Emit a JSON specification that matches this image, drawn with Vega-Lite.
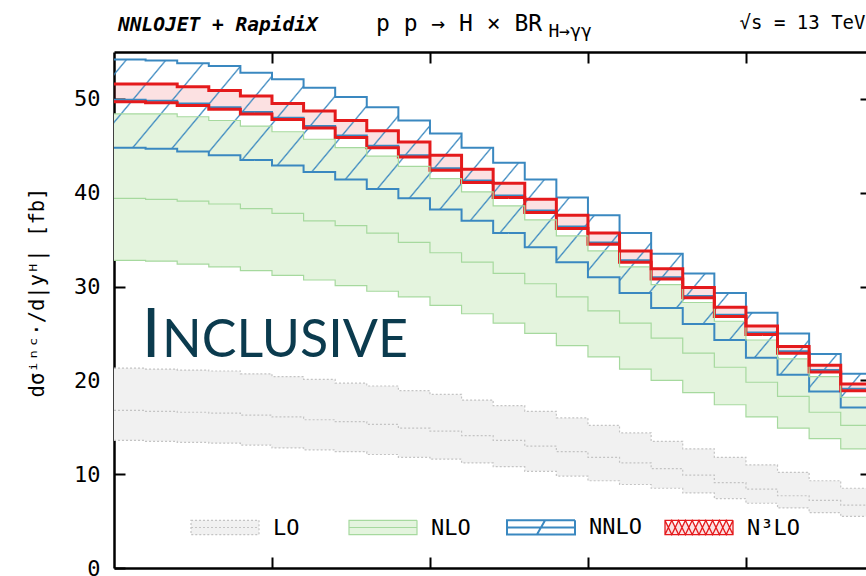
{
  "$schema": "https://vega.github.io/schema/vega-lite/v6.json",
  "width": 752,
  "height": 516,
  "autosize": "none",
  "padding": {"left": 114, "top": 52, "right": 0, "bottom": 8},
  "background": "white",
  "config": {
    "view": {"stroke": null},
    "axis": {
      "domainColor": "black", "domainWidth": 2.5, "tickColor": "black", "tickWidth": 2,
      "grid": false, "labelFont": "DejaVu Sans Mono", "labelFontSize": 22, "labelColor": "black",
      "titleFont": "DejaVu Sans Mono", "titleFontWeight": "normal", "titleFontSize": 20.5, "titleColor": "black"
    }
  },
  "data": {"values": [
    {"s": "LO", "x": [0,0.1,0.2,0.3,0.4,0.5,0.6,0.7,0.8,0.9,1.0,1.1,1.2,1.3,1.4,1.5,1.6,1.7,1.8,1.9,2.0,2.1,2.2,2.3,2.4],
     "lo": [13.6,13.5,13.4,13.3,13.1,12.8,12.6,12.4,12.1,11.8,11.6,11.2,10.8,10.3,9.8,9.3,8.9,8.5,8.0,7.4,6.9,6.4,5.9,5.5,5.5],
     "m": [16.8,16.7,16.6,16.5,16.3,16.1,15.8,15.6,15.3,14.9,14.6,14.1,13.6,13.0,12.4,11.8,11.2,10.6,9.9,9.1,8.4,7.7,7.2,6.7,6.7],
     "hi": [21.3,21.2,21.1,21.0,20.7,20.4,20.1,19.7,19.4,18.9,18.5,17.9,17.3,16.7,16.0,15.2,14.4,13.5,12.7,11.8,11.0,10.2,9.3,8.5,8.5]},
    {"s": "NLO", "x": [0,0.1,0.2,0.3,0.4,0.5,0.6,0.7,0.8,0.9,1.0,1.1,1.2,1.3,1.4,1.5,1.6,1.7,1.8,1.9,2.0,2.1,2.2,2.3,2.4],
     "lo": [32.8,32.7,32.4,32.1,31.7,31.2,30.7,30.1,29.5,28.9,28.0,27.1,26.1,25.0,23.7,22.5,21.2,20.0,18.7,17.4,16.1,14.9,13.8,12.7,12.7],
     "m": [39.4,39.3,39.1,38.8,38.3,37.8,37.0,36.5,35.7,34.7,33.6,32.6,31.4,30.3,28.9,27.4,26.1,24.5,22.9,21.4,19.8,18.3,16.6,15.2,15.2],
     "hi": [48.4,48.4,48.1,47.7,47.1,46.5,45.7,44.8,43.9,42.8,41.5,40.1,38.6,37.1,35.4,33.8,32.1,30.2,28.3,26.3,24.3,22.3,20.4,18.2,18.2]},
    {"s": "NNLO", "x": [0,0.1,0.2,0.3,0.4,0.5,0.6,0.7,0.8,0.9,1.0,1.1,1.2,1.3,1.4,1.5,1.6,1.7,1.8,1.9,2.0,2.1,2.2,2.3,2.4],
     "lo": [44.8,44.7,44.4,44.0,43.5,42.9,42.2,41.4,40.4,39.4,38.2,37.0,35.7,34.2,32.6,31.0,29.3,27.7,26.0,24.3,22.4,20.6,18.8,17.1,17.1],
     "m": [49.9,49.8,49.5,49.1,48.6,48.0,47.1,46.1,45.0,44.0,42.6,41.3,39.7,38.1,36.4,34.7,32.8,31.0,29.0,27.0,25.1,23.1,21.1,19.1,19.1],
     "hi": [54.2,54.1,53.8,53.5,52.8,52.1,51.2,50.2,49.1,47.7,46.3,44.8,43.2,41.4,39.5,37.6,35.7,33.5,31.4,29.3,27.2,25.0,22.8,20.7,20.7]},
    {"s": "N³LO", "x": [0,0.1,0.2,0.3,0.4,0.5,0.6,0.7,0.8,0.9,1.0,1.1,1.2,1.3,1.4,1.5,1.6,1.7,1.8,1.9,2.0,2.1,2.2,2.3,2.4],
     "lo": [49.7,49.6,49.3,48.9,48.4,47.8,46.9,45.9,44.8,43.8,42.4,41.1,39.5,37.9,36.2,34.5,32.6,30.8,28.8,26.8,24.9,22.9,20.9,18.9,18.9],
     "m": [],
     "hi": [51.6,51.6,51.3,50.9,50.3,49.5,48.7,47.7,46.6,45.4,44.0,42.5,41.0,39.3,37.6,35.7,33.8,31.9,29.9,27.8,25.8,23.6,21.6,19.6,19.6]}
  ]},
  "transform": [{"flatten": ["x", "lo", "m", "hi"]}],
  "layer": [
    {
      "mark": {"type": "area", "interpolate": "step-after", "clip": true},
      "encoding": {
        "x": {"field": "x", "type": "quantitative", "scale": {"domain": [0, 2.38], "nice": false, "zero": false},
              "axis": {"orient": "bottom", "values": [0.5, 1, 1.5, 2], "tickSize": -11, "labels": false, "title": null}},
        "y": {"field": "lo", "type": "quantitative", "scale": {"domain": [0, 55], "nice": false},
              "axis": {"orient": "left", "values": [0, 10, 20, 30, 40, 50], "tickSize": -11, "labelPadding": 25,
                       "title": "dσⁱⁿᶜ·/d|yᴴ| [fb]", "titlePadding": 26, "titleY": 240}},
        "y2": {"field": "hi"},
        "fill": {"field": "s", "type": "nominal",
                 "scale": {"domain": ["LO", "NLO", "NNLO", "N³LO"], "range": ["#f1f1f1", "#e4f4de", "rgba(58,136,192,0)", "rgba(228,26,28,0.13)"]},
                 "legend": {
                   "orient": "none", "legendX": 100, "legendY": 464, "direction": "horizontal", "title": null,
                   "symbolSize": 4624, "symbolType": "M-1,-0.21H1V0.21H-1Z",
                   "labelFont": "DejaVu Sans Mono", "labelFontSize": 22, "labelColor": "black", "labelOffset": 37,
                   "columnPadding": 19, "gridAlign": "all",
                   "encode": {"symbols": {"update": {
                     "shape": {"signal": "datum.value === 'N³LO' ? 'M-1,-0.21H1V0.21H-1Z M-1,-0.21L-0.8,0.21L-0.6,-0.21L-0.4,0.21L-0.2,-0.21L0,0.21L0.2,-0.21L0.4,0.21L0.6,-0.21L0.8,0.21L1,-0.21 M-1,0.21L-0.8,-0.21L-0.6,0.21L-0.4,-0.21L-0.2,0.21L0,-0.21L0.2,0.21L0.4,-0.21L0.6,0.21L0.8,-0.21L1,0.21' : datum.value === 'NNLO' ? 'M-1,-0.21H1V0.21H-1Z M-1,0H1 M-0.12,0.21L0.12,-0.21' : 'M-1,-0.21H1V0.21H-1Z M-1,0H1'"},
                     "fill": {"signal": "datum.value === 'LO' ? '#f1f1f1' : datum.value === 'NLO' ? '#e4f4de' : 'white'"},
                     "stroke": {"signal": "datum.value === 'LO' ? '#c4c4c4' : datum.value === 'NLO' ? '#a6d99e' : datum.value === 'NNLO' ? '#3a88c0' : '#e41a1c'"},
                     "strokeDash": {"signal": "datum.value === 'LO' ? [2,2] : [1,0]"},
                     "strokeWidth": {"signal": "datum.value === 'LO' || datum.value === 'NLO' ? 1.2 : datum.value === 'NNLO' ? 2 : 1.3"},
                     "opacity": {"value": 1}
                   }}}
                 }}
      }
    },
    {
      "transform": [{"filter": "datum.s === 'NNLO'"}],
      "mark": {"type": "area", "interpolate": "step-after", "clip": true,
               "fill": {"gradient": "linear", "x1": 0, "y1": 0, "x2": 1.206, "y2": 0.4613, "stops": [
                 {"offset": 0.0104, "color": "rgba(58,136,192,0)"}, {"offset": 0.012, "color": "#3a88c0"}, {"offset": 0.0136, "color": "rgba(58,136,192,0)"},
                 {"offset": 0.0484, "color": "rgba(58,136,192,0)"}, {"offset": 0.050, "color": "#3a88c0"}, {"offset": 0.0516, "color": "rgba(58,136,192,0)"},
                 {"offset": 0.0864, "color": "rgba(58,136,192,0)"}, {"offset": 0.088, "color": "#3a88c0"}, {"offset": 0.0896, "color": "rgba(58,136,192,0)"},
                 {"offset": 0.1244, "color": "rgba(58,136,192,0)"}, {"offset": 0.126, "color": "#3a88c0"}, {"offset": 0.1276, "color": "rgba(58,136,192,0)"},
                 {"offset": 0.1624, "color": "rgba(58,136,192,0)"}, {"offset": 0.164, "color": "#3a88c0"}, {"offset": 0.1656, "color": "rgba(58,136,192,0)"},
                 {"offset": 0.2004, "color": "rgba(58,136,192,0)"}, {"offset": 0.202, "color": "#3a88c0"}, {"offset": 0.2036, "color": "rgba(58,136,192,0)"},
                 {"offset": 0.2384, "color": "rgba(58,136,192,0)"}, {"offset": 0.240, "color": "#3a88c0"}, {"offset": 0.2416, "color": "rgba(58,136,192,0)"},
                 {"offset": 0.2764, "color": "rgba(58,136,192,0)"}, {"offset": 0.278, "color": "#3a88c0"}, {"offset": 0.2796, "color": "rgba(58,136,192,0)"},
                 {"offset": 0.3144, "color": "rgba(58,136,192,0)"}, {"offset": 0.316, "color": "#3a88c0"}, {"offset": 0.3176, "color": "rgba(58,136,192,0)"},
                 {"offset": 0.3524, "color": "rgba(58,136,192,0)"}, {"offset": 0.354, "color": "#3a88c0"}, {"offset": 0.3556, "color": "rgba(58,136,192,0)"},
                 {"offset": 0.3904, "color": "rgba(58,136,192,0)"}, {"offset": 0.392, "color": "#3a88c0"}, {"offset": 0.3936, "color": "rgba(58,136,192,0)"},
                 {"offset": 0.4284, "color": "rgba(58,136,192,0)"}, {"offset": 0.430, "color": "#3a88c0"}, {"offset": 0.4316, "color": "rgba(58,136,192,0)"},
                 {"offset": 0.4664, "color": "rgba(58,136,192,0)"}, {"offset": 0.468, "color": "#3a88c0"}, {"offset": 0.4696, "color": "rgba(58,136,192,0)"},
                 {"offset": 0.5044, "color": "rgba(58,136,192,0)"}, {"offset": 0.506, "color": "#3a88c0"}, {"offset": 0.5076, "color": "rgba(58,136,192,0)"},
                 {"offset": 0.5424, "color": "rgba(58,136,192,0)"}, {"offset": 0.544, "color": "#3a88c0"}, {"offset": 0.5456, "color": "rgba(58,136,192,0)"},
                 {"offset": 0.5804, "color": "rgba(58,136,192,0)"}, {"offset": 0.582, "color": "#3a88c0"}, {"offset": 0.5836, "color": "rgba(58,136,192,0)"},
                 {"offset": 0.6184, "color": "rgba(58,136,192,0)"}, {"offset": 0.620, "color": "#3a88c0"}, {"offset": 0.6216, "color": "rgba(58,136,192,0)"},
                 {"offset": 0.6564, "color": "rgba(58,136,192,0)"}, {"offset": 0.658, "color": "#3a88c0"}, {"offset": 0.6596, "color": "rgba(58,136,192,0)"},
                 {"offset": 0.6944, "color": "rgba(58,136,192,0)"}, {"offset": 0.696, "color": "#3a88c0"}, {"offset": 0.6976, "color": "rgba(58,136,192,0)"},
                 {"offset": 0.7324, "color": "rgba(58,136,192,0)"}, {"offset": 0.734, "color": "#3a88c0"}, {"offset": 0.7356, "color": "rgba(58,136,192,0)"},
                 {"offset": 0.7704, "color": "rgba(58,136,192,0)"}, {"offset": 0.772, "color": "#3a88c0"}, {"offset": 0.7736, "color": "rgba(58,136,192,0)"},
                 {"offset": 0.8084, "color": "rgba(58,136,192,0)"}, {"offset": 0.810, "color": "#3a88c0"}, {"offset": 0.8116, "color": "rgba(58,136,192,0)"},
                 {"offset": 0.8464, "color": "rgba(58,136,192,0)"}, {"offset": 0.848, "color": "#3a88c0"}, {"offset": 0.8496, "color": "rgba(58,136,192,0)"},
                 {"offset": 0.8844, "color": "rgba(58,136,192,0)"}, {"offset": 0.886, "color": "#3a88c0"}, {"offset": 0.8876, "color": "rgba(58,136,192,0)"},
                 {"offset": 0.9224, "color": "rgba(58,136,192,0)"}, {"offset": 0.924, "color": "#3a88c0"}, {"offset": 0.9256, "color": "rgba(58,136,192,0)"},
                 {"offset": 0.9604, "color": "rgba(58,136,192,0)"}, {"offset": 0.962, "color": "#3a88c0"}, {"offset": 0.9636, "color": "rgba(58,136,192,0)"},
                 {"offset": 0.9984, "color": "rgba(58,136,192,0)"}, {"offset": 1.0, "color": "#3a88c0"}
               ]}},
      "encoding": {
        "x": {"field": "x", "type": "quantitative", "axis": null},
        "y": {"field": "lo", "type": "quantitative", "axis": null},
        "y2": {"field": "hi"}
      }
    },
    {
      "transform": [{"filter": "datum.m != null"}],
      "mark": {"type": "line", "interpolate": "step-after", "clip": true},
      "encoding": {
        "x": {"field": "x", "type": "quantitative", "axis": null},
        "y": {"field": "m", "type": "quantitative", "axis": null},
        "stroke": {"field": "s", "type": "nominal", "legend": null,
                   "scale": {"domain": ["LO", "NLO", "NNLO", "N³LO"], "range": ["#c4c4c4", "#a6d99e", "#3a88c0", "#e41a1c"]}},
        "strokeDash": {"condition": {"test": "datum.s === 'LO'", "value": [2, 2]}, "value": [1, 0]},
        "strokeWidth": {"condition": [{"test": "datum.s === 'NNLO'", "value": 2}, {"test": "datum.s === 'N³LO'", "value": 3}], "value": 1.2}
      }
    },
    {
      "mark": {"type": "line", "interpolate": "step-after", "clip": true},
      "encoding": {
        "x": {"field": "x", "type": "quantitative", "axis": null},
        "y": {"field": "lo", "type": "quantitative", "axis": null},
        "stroke": {"field": "s", "type": "nominal", "legend": null,
                   "scale": {"domain": ["LO", "NLO", "NNLO", "N³LO"], "range": ["#c4c4c4", "#a6d99e", "#3a88c0", "#e41a1c"]}},
        "strokeDash": {"condition": {"test": "datum.s === 'LO'", "value": [2, 2]}, "value": [1, 0]},
        "strokeWidth": {"condition": [{"test": "datum.s === 'NNLO'", "value": 2}, {"test": "datum.s === 'N³LO'", "value": 3}], "value": 1.2}
      }
    },
    {
      "mark": {"type": "line", "interpolate": "step-after", "clip": true},
      "encoding": {
        "x": {"field": "x", "type": "quantitative",
              "axis": {"orient": "top", "values": [0.5, 1, 1.5, 2], "tickSize": -11, "labels": false, "title": null}},
        "y": {"field": "hi", "type": "quantitative",
              "axis": {"orient": "right", "values": [10, 20, 30, 40, 50], "tickSize": -6, "labels": false, "domain": false, "title": null}},
        "stroke": {"field": "s", "type": "nominal", "legend": null,
                   "scale": {"domain": ["LO", "NLO", "NNLO", "N³LO"], "range": ["#c4c4c4", "#a6d99e", "#3a88c0", "#e41a1c"]}},
        "strokeDash": {"condition": {"test": "datum.s === 'LO'", "value": [2, 2]}, "value": [1, 0]},
        "strokeWidth": {"condition": [{"test": "datum.s === 'NNLO'", "value": 2}, {"test": "datum.s === 'N³LO'", "value": 3}], "value": 1.2}
      }
    },
    {
      "data": {"values": [{"t": "NNLOJET + RapidiX", "px": 0.013, "py": 57.2}]},
      "mark": {"type": "text", "align": "left", "baseline": "alphabetic", "font": "DejaVu Sans Mono", "fontSize": 19.5, "fontWeight": "bold", "fontStyle": "italic", "color": "black"},
      "encoding": {"x": {"field": "px", "type": "quantitative", "axis": null}, "y": {"field": "py", "type": "quantitative", "axis": null}, "text": {"field": "t"}}
    },
    {
      "data": {"values": [{"t": "p p → H × BR", "px": 0.829, "py": 57.2}]},
      "mark": {"type": "text", "align": "left", "baseline": "alphabetic", "font": "DejaVu Sans Mono", "fontSize": 23, "color": "black"},
      "encoding": {"x": {"field": "px", "type": "quantitative", "axis": null}, "y": {"field": "py", "type": "quantitative", "axis": null}, "text": {"field": "t"}}
    },
    {
      "data": {"values": [{"t": "H→γγ", "px": 1.375, "py": 56.55}]},
      "mark": {"type": "text", "align": "left", "baseline": "alphabetic", "font": "DejaVu Sans Mono", "fontSize": 18, "color": "black"},
      "encoding": {"x": {"field": "px", "type": "quantitative", "axis": null}, "y": {"field": "py", "type": "quantitative", "axis": null}, "text": {"field": "t"}}
    },
    {
      "data": {"values": [{"t": "√s = 13 TeV", "px": 1.98, "py": 57.4}]},
      "mark": {"type": "text", "align": "left", "baseline": "alphabetic", "font": "DejaVu Sans Mono", "fontSize": 19, "color": "black"},
      "encoding": {"x": {"field": "px", "type": "quantitative", "axis": null}, "y": {"field": "py", "type": "quantitative", "axis": null}, "text": {"field": "t"}}
    },
    {
      "data": {"values": [{"t": "I", "px": 0.088, "py": 22.45}]},
      "mark": {"type": "text", "align": "left", "baseline": "alphabetic", "font": "Lato", "fontSize": 67, "color": "#0b3b4e"},
      "encoding": {"x": {"field": "px", "type": "quantitative", "axis": null}, "y": {"field": "py", "type": "quantitative", "axis": null}, "text": {"field": "t"}}
    },
    {
      "data": {"values": [{"t": "NCLUSIVE", "px": 0.152, "py": 22.45}]},
      "mark": {"type": "text", "align": "left", "baseline": "alphabetic", "font": "Lato", "fontSize": 52, "color": "#0b3b4e"},
      "encoding": {"x": {"field": "px", "type": "quantitative", "axis": null}, "y": {"field": "py", "type": "quantitative", "axis": null}, "text": {"field": "t"}}
    }
  ],
  "resolve": {"axis": {"x": "independent", "y": "independent"}}
}
